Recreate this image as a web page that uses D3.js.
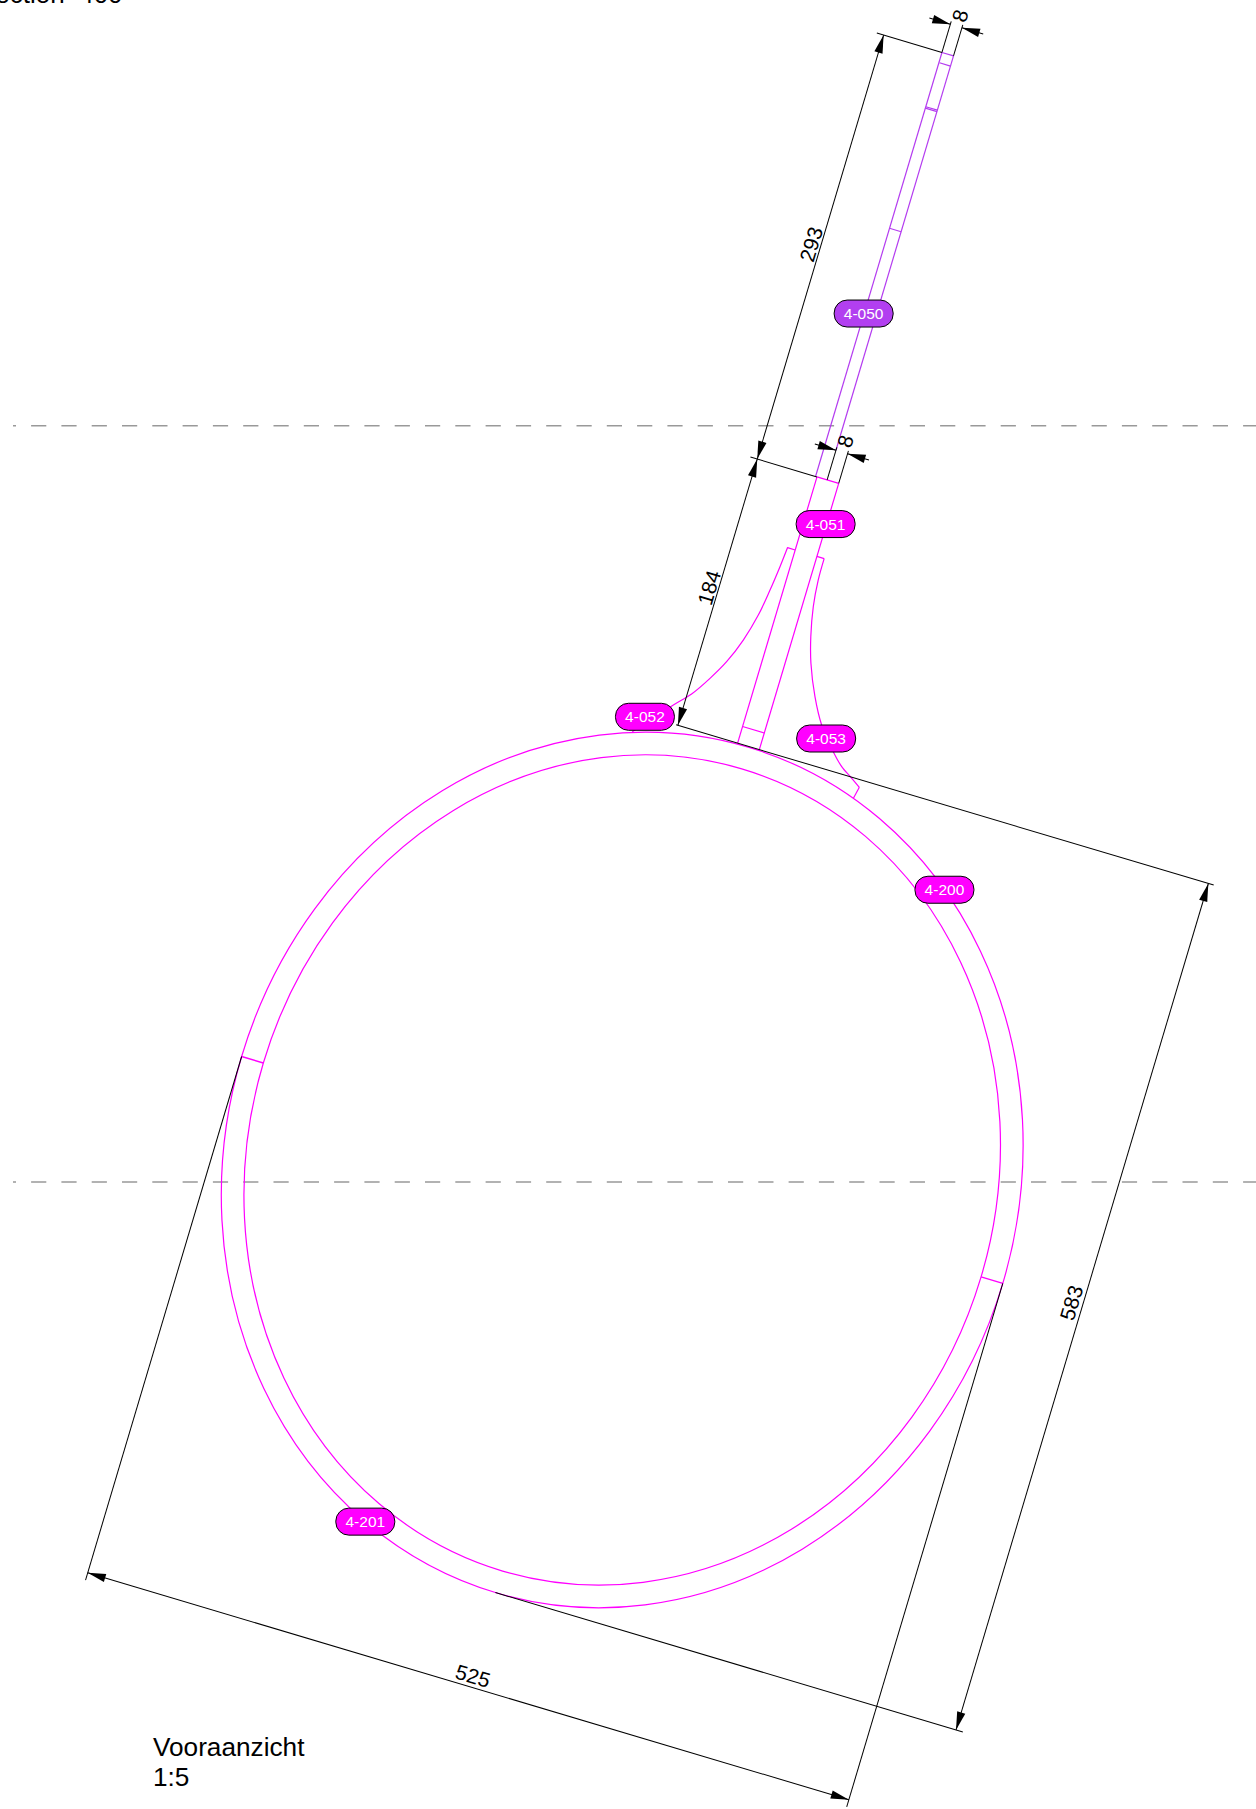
<!DOCTYPE html>
<meta charset="utf-8">
<style>
    html, body { margin: 0; background: #fff; }
    svg { display: block; font-family: "Liberation Sans", Arial, sans-serif; }
</style>
<div id="drawing"></div>
<script src="https://d3js.org/d3.v7.min.js"></script>
<script>
    // all geometry in drawing millimetres, origin = shaft foot centre, u along the seam, v up the shaft
    var ringCentre = [0.5, -1.2];
    var ringOuter = [263, 292.2];
    var ringInner = [248, 277.2];
    var seams = [[-262.5, -1.2, -247.5, -1.2], [248.5, -1.2, 263.5, -1.2]];

    var purpleLines = [
        [-8, 475.5, -8, 768.5], [0, 496, 0, 768.5], [-8, 768.5, 0, 768.5],
        [-7.6, 761.5, 0, 761.5], [-8, 730, 0, 730], [-8, 731, 0, 731], [-8, 647, 0, 647]
    ];
    var magentaLines = [
        [-7, 291.5, -7, 475.5], [8, 291.5, 8, 475.5], [-7, 475.5, 8, 475.5], [-7, 303, 8, 303],
        [-12.3, 425, -7, 425], [8, 425, 13, 425], [78.6, 286.5, 76.9, 278.5]
    ];
    var gussetLeft = [[-12.3, 425.3], [-13.5, 411.5], [-15.4, 394.8], [-18.1, 376.7], [-22.9, 358], [-29.4, 341.1],
        [-36.8, 327.4], [-45.5, 314], [-55, 303.5], [-76, 278.8]];
    var gussetRight = [[13, 425], [13.3, 410.2], [15.2, 392.4], [19.3, 372.9], [24.4, 356.1], [33.3, 335.6],
        [42.9, 318.9], [55.3, 304.2], [63.5, 296.3], [72.1, 290.8], [78.6, 286.5]];

    var dimLines = [
        [-48.3, 291.5, -48.3, 768.5], [-53, 768.5, -8, 768.5], [-53, 475.5, -7, 475.5],
        [-49.5, 291.5, 322, 291.5], [0, -293.4, 323, -293.4], [318.3, -293.4, 318.3, 291.5],
        [-262.5, -358, 263.5, -358], [-262.5, -1.2, -262.5, -363], [263.5, -1.2, 263.5, -363],
        [-8, 768.5, -8, 790], [0, 768.5, 0, 790], [-22.5, 788, -8, 788], [0, 788, 14.7, 788],
        [0, 475.5, 0, 498], [8, 475.5, 8, 498], [-14.6, 496, 0, 496], [8, 496, 22.8, 496]
    ];
    // arrow tip u, v and pointing direction du, dv
    var arrows = [
        [-48.3, 768.5, 0, 1], [-48.3, 475.5, 0, -1], [-48.3, 475.5, 0, 1], [-48.3, 291.5, 0, -1],
        [318.3, 291.5, 0, 1], [318.3, -293.4, 0, -1], [-262.5, -358, -1, 0], [263.5, -358, 1, 0],
        [-8, 788, 1, 0], [0, 788, -1, 0], [0, 496, 1, 0], [8, 496, -1, 0]
    ];
    var dimTexts = [
        ["293", -54.8, 622, -90], ["184", -54.6, 384.8, -90], ["583", 310.6, -0.5, -90], ["525", 1.5, -350.5, 0],
        ["8", -3.5, 795.2, -90], ["8", 4.2, 503.5, -90]
    ];

    var labelNames = ["4-050", "4-051", "4-052", "4-053", "4-200", "4-201"];
    var labelU = [-8.3, 7.4, -70.8, 48.3, 152, -96];
    var labelV = [588, 447.2, 290.7, 311.2, 237.6, -273];
    var labelFill = ["#b23ff0", "#ff00ff", "#ff00ff", "#ff00ff", "#ff00ff", "#ff00ff"];

    var centreLinesY = [425.7, 1182];
    var titleLines = ["Vooraanzicht", "1:5"];

    var purple = "#b43cf0", magenta = "#ff00ff";
    var width = 1256, height = 1809, tilt = 16.6, mm = 1.51;

    var u = d3.scaleLinear().domain([0, 1]).range([0, mm]);
    var v = d3.scaleLinear().domain([0, 1]).range([0, -mm]);

    var svg = d3.select("#drawing").append("svg")
        .attr("width", width)
        .attr("height", height);

    // Centre lines
    svg.selectAll(".centre")
        .data(centreLinesY)
        .enter().append("line")
        .attr("x1", 13).attr("x2", width)
        .attr("y1", function(d) { return d; }).attr("y2", function(d) { return d; })
        .attr("stroke", "#999")
        .attr("stroke-width", 1.5)
        .attr("stroke-dasharray", "15.2 15.1")
        .attr("stroke-dashoffset", 12.2);

    var g = svg.append("g")
        .attr("transform", "translate(622,1168) rotate(" + tilt + ")");

    // Ring
    g.selectAll(".ring")
        .data([ringOuter, ringInner])
        .enter().append("ellipse")
        .attr("cx", u(ringCentre[0]))
        .attr("cy", v(ringCentre[1]))
        .attr("rx", function(d) { return u(d[0]); })
        .attr("ry", function(d) { return u(d[1]); })
        .attr("fill", "none")
        .attr("stroke", magenta)
        .attr("stroke-width", 1.2);

    function drawLines(rows, colour, w) {
        g.append("g").selectAll("line")
            .data(rows)
            .enter().append("line")
            .attr("x1", function(d) { return u(d[0]); })
            .attr("y1", function(d) { return v(d[1]); })
            .attr("x2", function(d) { return u(d[2]); })
            .attr("y2", function(d) { return v(d[3]); })
            .attr("stroke", colour)
            .attr("stroke-width", w);
    }

    drawLines(seams, magenta, 1.4);
    drawLines(purpleLines, purple, 1.2);
    drawLines(magentaLines, magenta, 1.2);

    var curve = d3.line()
        .x(function(d) { return u(d[0]); })
        .y(function(d) { return v(d[1]); })
        .curve(d3.curveCatmullRom);

    g.selectAll(".gusset")
        .data([gussetLeft, gussetRight])
        .enter().append("path")
        .attr("d", curve)
        .attr("fill", "none")
        .attr("stroke", magenta)
        .attr("stroke-width", 1.2);

    drawLines(dimLines, "#000", 1);

    // Arrow heads
    g.selectAll(".arrow")
        .data(arrows)
        .enter().append("path")
        .attr("fill", "#000")
        .attr("d", function(d) {
            var len = 12, half = 2.8;
            var bx = d[0] - d[2] * len, by = d[1] - d[3] * len;
            return d3.line()([
                [u(d[0]), v(d[1])],
                [u(bx - d[3] * half), v(by + d[2] * half)],
                [u(bx + d[3] * half), v(by - d[2] * half)]
            ]) + "Z";
        });

    // Dimension texts
    g.selectAll(".dim")
        .data(dimTexts)
        .enter().append("text")
        .attr("transform", function(d) {
            return "translate(" + u(d[1]) + "," + v(d[2]) + ") rotate(" + d[3] + ")";
        })
        .attr("text-anchor", "middle")
        .attr("dy", "0.36em")
        .attr("font-size", 21)
        .text(function(d) { return d[0]; });

    // Part labels
    var labels = g.selectAll(".label")
        .data(labelNames)
        .enter().append("g")
        .attr("transform", function(d, i) {
            return "translate(" + u(labelU[i]) + "," + v(labelV[i]) + ") rotate(" + (-tilt) + ")";
        });
    labels.append("rect")
        .attr("x", -29.5).attr("y", -13.5)
        .attr("width", 59).attr("height", 27)
        .attr("rx", 13).attr("ry", 13)
        .attr("fill", function(d, i) { return labelFill[i]; })
        .attr("stroke", "#000")
        .attr("stroke-width", 1);
    labels.append("text")
        .attr("text-anchor", "middle")
        .attr("dy", "0.36em")
        .attr("font-size", 15.5)
        .attr("fill", "#fff")
        .text(function(d) { return d; });

    // Title, the first one runs off the page in the original too
    svg.append("text")
        .attr("x", -22).attr("y", 3)
        .attr("font-size", 26)
        .style("white-space", "pre")
        .text("Section  400");

    svg.selectAll(".title")
        .data(titleLines)
        .enter().append("text")
        .attr("x", 153)
        .attr("y", function(d, i) { return 1756 + i * 30; })
        .attr("font-size", 26.2)
        .text(function(d) { return d; });
</script>
